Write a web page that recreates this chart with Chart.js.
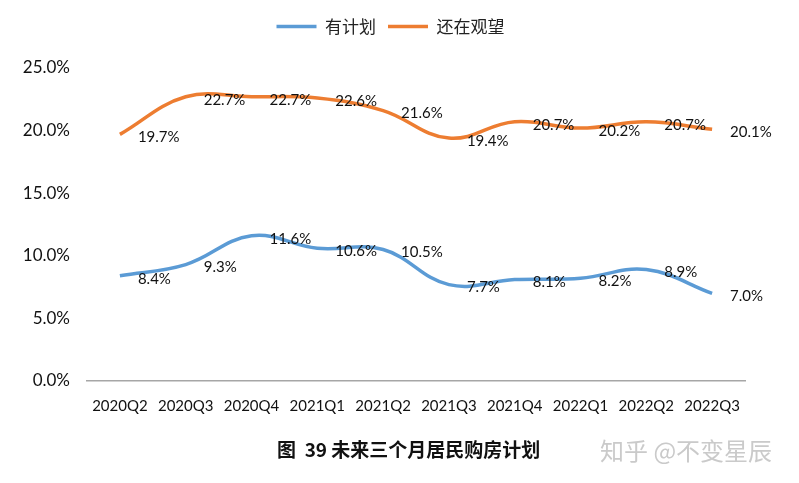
<!DOCTYPE html>
<html>
<head>
<meta charset="utf-8">
<script src="https://cdn.jsdelivr.net/npm/chart.js@4"></script>
<style>
  html,body{margin:0;padding:0;background:#fff;}
  #wrap{position:relative;width:799px;height:483px;}
</style>
</head>
<body>
<div id="wrap"><canvas id="c" width="799" height="483"></canvas></div>
<script>
// quarters and survey shares (%)
const quarters=['2020Q2','2020Q3','2020Q4','2021Q1','2021Q2','2021Q3','2021Q4','2022Q1','2022Q2','2022Q3'];
const planned=[8.4,9.3,11.6,10.6,10.5,7.7,8.1,8.2,8.9,7.0];
const waiting=[19.7,22.7,22.7,22.6,21.6,19.4,20.7,20.2,20.7,20.1];
const yTicks=[0,5,10,15,20,25];
const caption='图  39 未来三个月居民购房计划';
const mark='知乎 @不变星辰';

const latin='Lato, "Noto Sans CJK SC", sans-serif';
Chart.defaults.font.family=latin;
Chart.defaults.color='#000';

// labels to the right of each point, like the excel "right" position
const pointLabels={id:'pointLabels',afterDatasetsDraw(chart){
  const ctx=chart.ctx; ctx.save();
  ctx.font='15px '+latin; ctx.fillStyle='#111'; ctx.textAlign='left'; ctx.textBaseline='middle';
  chart.data.datasets.forEach((ds,i)=>{
    chart.getDatasetMeta(i).data.forEach((p,j)=>{ ctx.fillText(ds.data[j].toFixed(1)+'%',p.x+18,p.y+3); });
  });
  ctx.restore();
}};
// caption + watermark under the chart
const footer={id:'footer',afterDraw(chart){
  const ctx=chart.ctx; ctx.save(); ctx.textBaseline='middle';
  ctx.font='bold 19px "Noto Sans CJK SC", sans-serif'; ctx.fillStyle='#111'; ctx.textAlign='left';
  ctx.fillText(caption,277,450);
  ctx.font='24px "Noto Sans CJK SC", sans-serif'; ctx.fillStyle='#cacaca';
  ctx.fillText(mark,600,451);
  ctx.restore();
}};
// fixed legend band height, legend nudged right to sit over the plot
const legendBox={id:'legendBox',
  beforeInit(chart){ const fit=chart.legend.fit; chart.legend.fit=function(){ fit.call(this); this.height=62; }; },
  afterLayout(chart){ chart.legend.left+=18; chart.legend.right+=18; }
};

new Chart(document.getElementById('c'),{
  type:'line',
  data:{labels:quarters,datasets:[
    {label:'有计划',data:planned,borderColor:'#5B9BD5',backgroundColor:'#5B9BD5',borderWidth:3.5,pointRadius:0,tension:0.4},
    {label:'还在观望',data:waiting,borderColor:'#ED7D31',backgroundColor:'#ED7D31',borderWidth:3.5,pointRadius:0,tension:0.4}
  ]},
  options:{
    responsive:false,animation:false,
    layout:{padding:{left:0,right:54,top:6,bottom:62}},
    plugins:{
      legend:{position:'top',labels:{usePointStyle:true,pointStyle:'line',pointStyleWidth:40,padding:12,font:{size:17,family:'"Noto Sans CJK SC", sans-serif'},color:'#222'}},
      tooltip:{enabled:false}
    },
    scales:{
      x:{offset:true,grid:{display:false,drawTicks:false},border:{color:'#a6a6a6',width:1.5},
         ticks:{padding:16,font:{size:15},color:'#111',maxRotation:0},
         afterFit(s){s.height=40;}},
      y:{min:0,max:25,grid:{display:false,drawTicks:false},border:{display:false},
         afterBuildTicks(s){s.ticks=yTicks.map(v=>({value:v}));},
         ticks:{padding:17,font:{size:17},color:'#111',callback:v=>v.toFixed(1)+'%'},
         afterFit(s){s.width=87;}}
    }
  },
  plugins:[legendBox,pointLabels,footer]
});
</script>
</body>
</html>
